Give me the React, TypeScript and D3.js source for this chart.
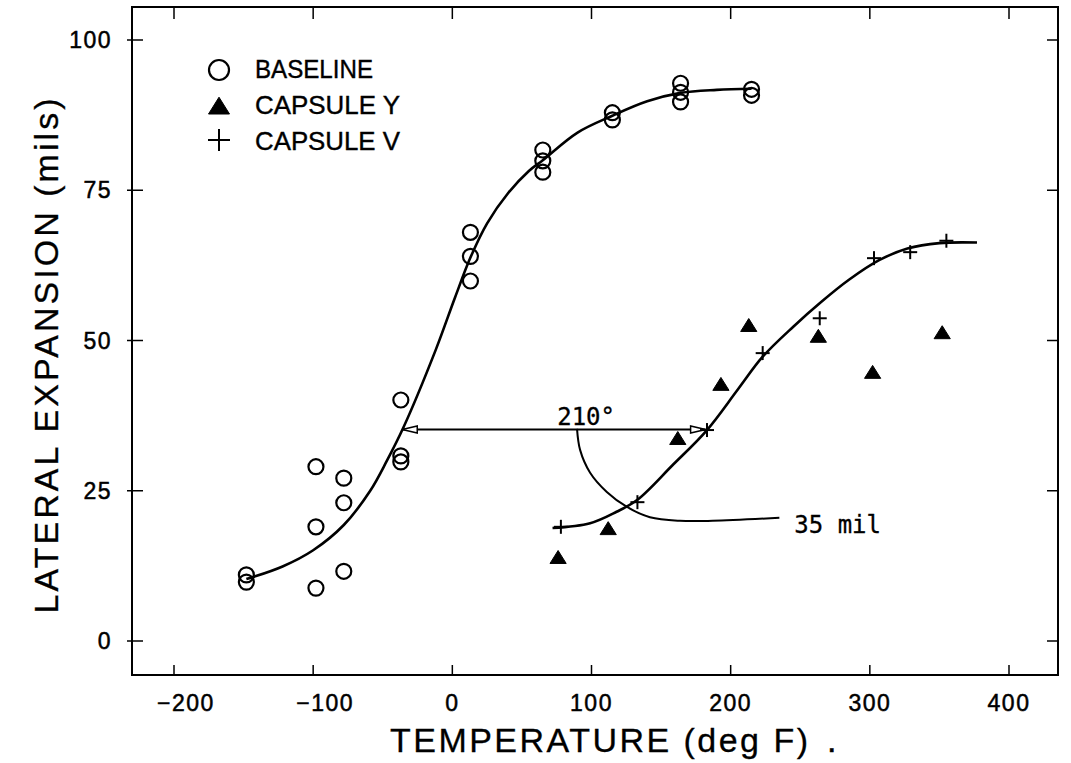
import React from "react";
import * as d3 from "d3";

// ---------- data ----------
const X_TICKS = [-200, -100, 0, 100, 200, 300, 400];
const Y_TICKS = [0, 25, 50, 75, 100];

// [temperature degF, lateral expansion mils]
const BASELINE: [number, number][] = [
  [-148, 11.0], [-148, 9.8],
  [-98, 29.0], [-98, 19.0], [-98, 8.8],
  [-78, 27.1], [-78, 23.0], [-78, 11.6],
  [-37, 40.1], [-37, 30.8], [-37, 29.8],
  [13, 68.0], [13, 64.0], [13, 59.9],
  [65, 81.7], [65, 79.9], [65, 78.0],
  [115, 87.9], [115, 86.7],
  [164, 92.8], [164, 91.3], [164, 89.7],
  [215, 91.8], [215, 90.8],
];

const CAPSULE_Y: [number, number][] = [
  [76, 13.8], [112, 18.6], [162, 33.6], [193, 42.6],
  [213, 52.4], [263, 50.6], [302, 44.6], [352, 51.2],
];

const CAPSULE_V: [number, number][] = [
  [78, 19.0], [133, 23.1], [183, 35.1], [223, 47.9],
  [264, 53.7], [303, 63.7], [329, 64.7], [355, 66.6],
];

// fitted curves
const BASELINE_FIT: [number, number][] = [
  [-148, 10.3], [-122, 12.4], [-100, 15.1], [-78, 19.3], [-59, 25], [-47, 30],
  [-35, 35.6], [-12, 48.4], [2, 57.2], [13, 63.8], [25, 69.5],
  [40, 74.5], [55, 78.2], [65, 80], [90, 84.6], [115, 87.4],
  [140, 89.8], [164, 91.2], [190, 91.7], [215, 91.9],
];

const CAPSULE_V_FIT: [number, number][] = [
  [72, 18.8], [99, 19.6], [118, 21.5], [133, 23.5], [158, 29.2],
  [183, 35.1], [205, 41.8], [223, 47.3], [245, 52.3], [265, 56.4],
  [285, 60.1], [307, 63.4], [327, 65.3], [350, 66.2], [377, 66.3],
];

// annotation: shift arrow at 35 mil and leader from "210°" to "35 mil"
const SHIFT_LEVEL = 35.2;
const SHIFT_FROM = -36;
const SHIFT_TO = 182;
const LEADER: [number, number][] = [
  [89.6, 35.3], [91.8, 31.8], [99, 28], [111, 24.8], [125.5, 22.3],
  [142, 20.6], [163.5, 20], [187, 20], [235, 20.5],
];
const SHIFT_LABEL = { t: 89, v: 36.5, text: "210°" };
const MIL_LABEL = { t: 245, v: 18.5, text: "35 mil" };

const LEGEND = ["BASELINE", "CAPSULE Y", "CAPSULE V"];

// ---------- layout ----------
const W = 1071;
const H = 763;
const FRAME = { left: 132, right: 1058, top: 7, bottom: 675 };
const SANS = "'Liberation Sans', Arial, Helvetica, sans-serif";
const MONO = "'DejaVu Sans Mono', 'Liberation Mono', monospace";

const x = d3.scaleLinear().domain([-200, 400]).range([174, 1009]);
const y = d3.scaleLinear().domain([0, 100]).range([641, 40]);

const fmt = (t: number) => (t < 0 ? "\u2212" + Math.abs(t) : String(t));

function Circle({ cx, cy, r = 7.5 }: { cx: number; cy: number; r?: number }) {
  return <circle cx={cx} cy={cy} r={r} fill="none" stroke="#000" strokeWidth={2.2} />;
}
function Tri({ cx, cy, s = 1.08 }: { cx: number; cy: number; s?: number }) {
  const pts = [
    [cx, cy - 7 * s],
    [cx + 7.5 * s, cy + 5 * s],
    [cx - 7.5 * s, cy + 5 * s],
  ];
  return <polygon points={pts.map((p) => p.join(",")).join(" ")} fill="#000" stroke="#000" strokeWidth={1} />;
}
function Plus({ cx, cy, h = 7 }: { cx: number; cy: number; h?: number }) {
  return (
    <g stroke="#000" strokeWidth={2}>
      <line x1={cx - h} x2={cx + h} y1={cy} y2={cy} />
      <line x1={cx} x2={cx} y1={cy - h} y2={cy + h} />
    </g>
  );
}

const textStyle = { fill: "#000", stroke: "#000", strokeWidth: 0.5 };

export default function App() {
  const line = d3
    .line<[number, number]>()
    .x((d) => x(d[0]))
    .y((d) => y(d[1]))
    .curve(d3.curveCatmullRom.alpha(0.5));

  const ay = y(SHIFT_LEVEL);
  const ax1 = x(SHIFT_FROM);
  const ax2 = x(SHIFT_TO);

  return (
    <svg
      width={W}
      height={H}
      viewBox={`0 0 ${W} ${H}`}
      style={{ position: "absolute", left: 0, top: 0, background: "#fff" }}
    >
      <rect x={0} y={0} width={W} height={H} fill="#fff" />
      {/* frame */}
      <rect
        x={FRAME.left}
        y={FRAME.top}
        width={FRAME.right - FRAME.left}
        height={FRAME.bottom - FRAME.top}
        fill="none"
        stroke="#000"
        strokeWidth={2}
      />
      {/* x ticks */}
      {X_TICKS.map((t) => (
        <g key={"xt" + t}>
          <line x1={x(t)} x2={x(t)} y1={FRAME.bottom} y2={FRAME.bottom - 10} stroke="#000" strokeWidth={1.5} />
          <line x1={x(t)} x2={x(t)} y1={FRAME.top} y2={FRAME.top + 12} stroke="#000" strokeWidth={1.5} />
          <text
            x={x(t) + (t < 0 ? 12 : 0)}
            y={711}
            textAnchor="middle"
            fontFamily={SANS}
            fontSize={23}
            letterSpacing={1.5}
            {...textStyle}
          >
            {fmt(t)}
          </text>
        </g>
      ))}
      {/* y ticks */}
      {Y_TICKS.map((v) => (
        <g key={"yt" + v}>
          <line x1={FRAME.left - 5} x2={FRAME.left + 11} y1={y(v)} y2={y(v)} stroke="#000" strokeWidth={1.5} />
          <line x1={FRAME.right - 11} x2={FRAME.right} y1={y(v)} y2={y(v)} stroke="#000" strokeWidth={1.5} />
          <text
            x={112}
            y={y(v) + 8}
            textAnchor="end"
            fontFamily={SANS}
            fontSize={23}
            letterSpacing={1.5}
            {...textStyle}
          >
            {v}
          </text>
        </g>
      ))}

      {/* axis titles */}
      <text
        x={390}
        y={752}
        fontFamily={SANS}
        fontSize={34}
        textLength={418}
        lengthAdjust="spacing"
        {...textStyle}
        strokeWidth={0.3}
      >
        TEMPERATURE (deg F)
      </text>
      <text x={827} y={752} fontFamily={SANS} fontSize={34} {...textStyle}>
        .
      </text>
      <text
        transform={`translate(58, 356) rotate(-90)`}
        textAnchor="middle"
        fontFamily={SANS}
        fontSize={34}
        textLength={515}
        lengthAdjust="spacing"
        {...textStyle}
        strokeWidth={0.3}
      >
        LATERAL EXPANSION (mils)
      </text>

      {/* legend */}
      <Circle cx={219} cy={70} r={10} />
      <Tri cx={219} cy={107} s={1.4} />
      <Plus cx={219} cy={140} h={11} />
      {LEGEND.map((s, i) => (
        <text
          key={s}
          x={255}
          y={78 + i * 36}
          fontFamily={SANS}
          fontSize={26}
          textLength={i === 0 ? 118 : 145}
          lengthAdjust="spacingAndGlyphs"
          {...textStyle}
          strokeWidth={0.4}
        >
          {s}
        </text>
      ))}

      {/* fitted curves */}
      <path d={line(BASELINE_FIT) || ""} fill="none" stroke="#000" strokeWidth={2.6} />
      <path d={line(CAPSULE_V_FIT) || ""} fill="none" stroke="#000" strokeWidth={2.6} />

      {/* shift annotation */}
      <line x1={ax1} x2={ax2} y1={ay} y2={ay} stroke="#000" strokeWidth={2} />
      <polygon
        points={`${ax1},${ay} ${ax1 + 15},${ay - 3.5} ${ax1 + 15},${ay + 3.5}`}
        fill="#fff"
        stroke="#000"
        strokeWidth={1.5}
      />
      <polygon
        points={`${ax2},${ay} ${ax2 - 15},${ay - 3.5} ${ax2 - 15},${ay + 3.5}`}
        fill="#fff"
        stroke="#000"
        strokeWidth={1.5}
      />
      <path d={line(LEADER) || ""} fill="none" stroke="#000" strokeWidth={2} />
      <text x={x(SHIFT_LABEL.t) - 19} y={y(SHIFT_LABEL.v) + 3} fontFamily={MONO} fontSize={24} fill="#000" stroke="#000" strokeWidth={0.3}>
        {SHIFT_LABEL.text}
      </text>
      <text x={x(MIL_LABEL.t) + 1} y={y(MIL_LABEL.v) + 3} fontFamily={MONO} fontSize={24} fill="#000" stroke="#000" strokeWidth={0.3}>
        {MIL_LABEL.text}
      </text>

      {/* data points */}
      {BASELINE.map((d, i) => (
        <Circle key={"b" + i} cx={x(d[0])} cy={y(d[1])} />
      ))}
      {CAPSULE_Y.map((d, i) => (
        <Tri key={"y" + i} cx={x(d[0])} cy={y(d[1])} />
      ))}
      {CAPSULE_V.map((d, i) => (
        <Plus key={"v" + i} cx={x(d[0])} cy={y(d[1])} />
      ))}
    </svg>
  );
}
